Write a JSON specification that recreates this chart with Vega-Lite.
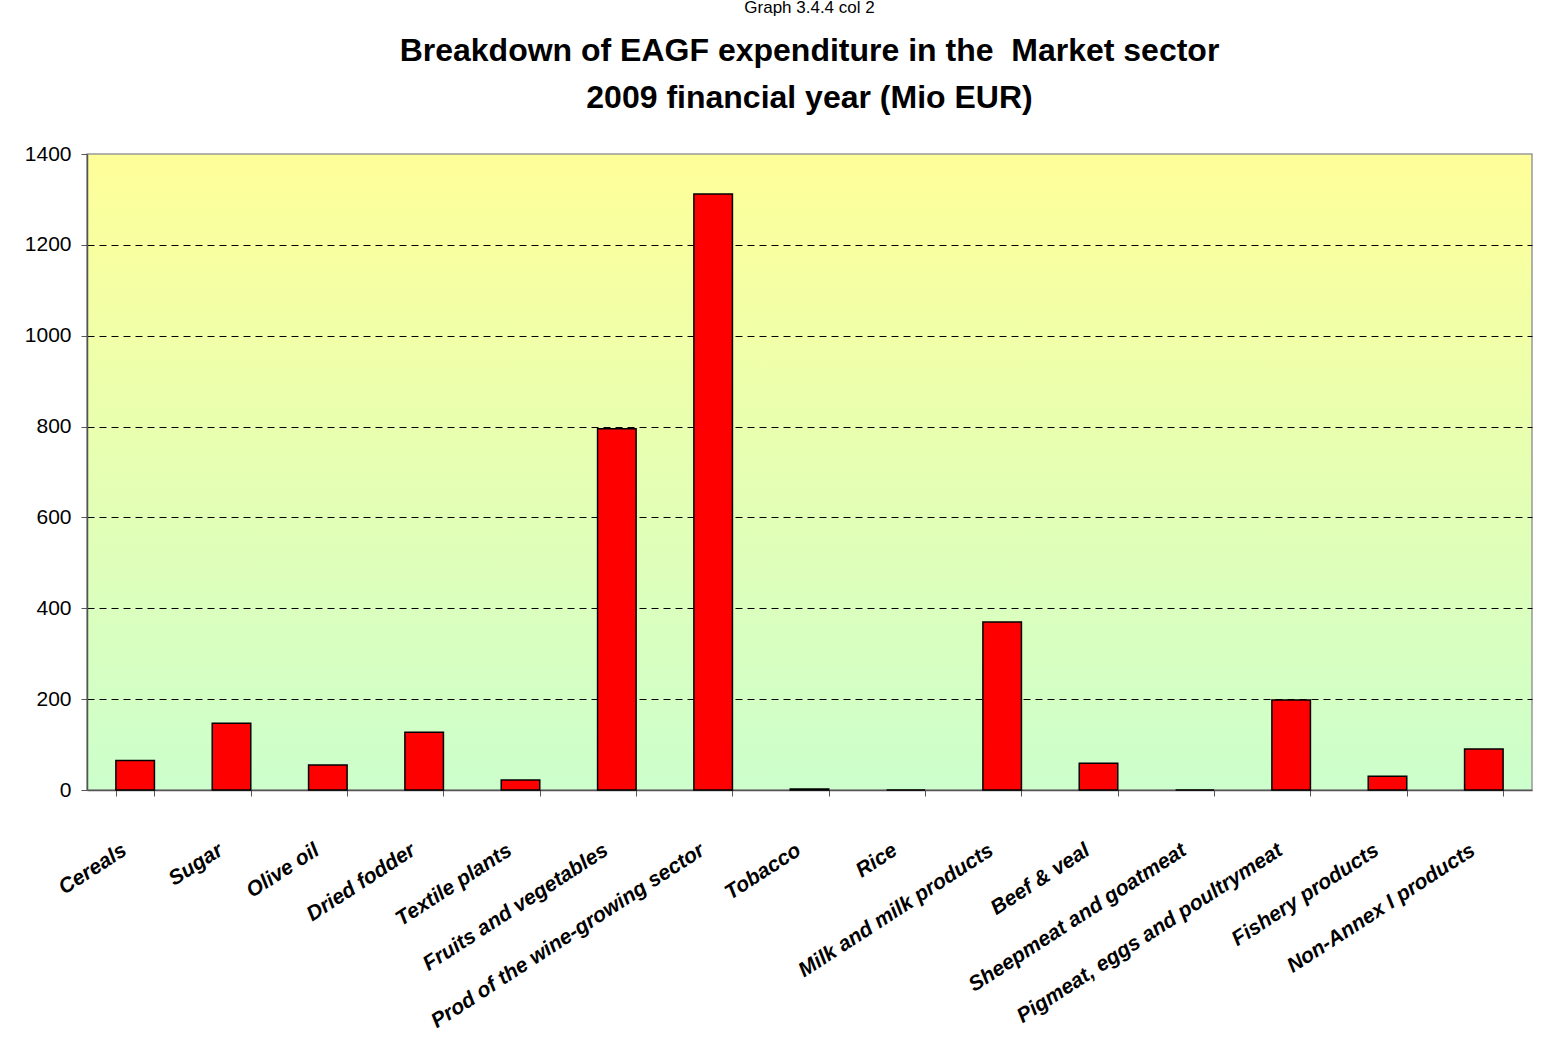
{
  "$schema": "https://vega.github.io/schema/vega-lite/v6.json",
  "autosize": "none",
  "padding": {"left": 87, "top": 154, "right": 14, "bottom": 268},
  "width": 1445,
  "height": 636,
  "background": "white",
  "title": {
    "text": "Graph 3.4.4 col 2",
    "subtitle": ["Breakdown of EAGF expenditure in the\u00a0 Market sector", "2009 financial year (Mio EUR)"],
    "anchor": "middle",
    "font": "Liberation Sans",
    "fontSize": 17,
    "fontWeight": "normal",
    "color": "black",
    "subtitleFont": "Liberation Sans",
    "subtitleFontSize": 32,
    "subtitleFontWeight": "bold",
    "subtitleColor": "black",
    "subtitleLineHeight": 47,
    "subtitlePadding": 19,
    "offset": 28
  },
  "data": {
    "values": [
      {"sector": "Cereals", "value": 65},
      {"sector": "Sugar", "value": 147},
      {"sector": "Olive oil", "value": 55},
      {"sector": "Dried fodder", "value": 127},
      {"sector": "Textile plants", "value": 22},
      {"sector": "Fruits and vegetables", "value": 795},
      {"sector": "Prod of the wine-growing sector", "value": 1312},
      {"sector": "Tobacco", "value": 2},
      {"sector": "Rice", "value": 0},
      {"sector": "Milk and milk products", "value": 370},
      {"sector": "Beef & veal", "value": 59},
      {"sector": "Sheepmeat and goatmeat", "value": 0},
      {"sector": "Pigmeat, eggs and poultrymeat", "value": 198},
      {"sector": "Fishery products", "value": 30},
      {"sector": "Non-Annex I products", "value": 90}
    ]
  },
  "mark": {"type": "bar", "fill": "#FF0000", "stroke": "black", "strokeWidth": 1.5},
  "encoding": {
    "x": {
      "field": "sector",
      "type": "nominal",
      "sort": null,
      "scale": {"paddingInner": 0.6, "paddingOuter": 0.3},
      "axis": {
        "title": null,
        "labelAngle": -33,
        "labelAlign": "right",
        "labelBaseline": "top",
        "labelPadding": 43,
        "labelOffset": -17,
        "labelFont": "Liberation Sans",
        "labelFontSize": 21,
        "labelFontWeight": "bold",
        "labelFontStyle": "italic",
        "labelColor": "black",
        "labelLimit": 500,
        "tickBand": "extent",
        "tickSize": 6,
        "tickColor": "#555555",
        "domainColor": "#555555",
        "domainWidth": 1.5,
        "grid": false
      }
    },
    "y": {
      "field": "value",
      "type": "quantitative",
      "scale": {"domain": [0, 1400], "nice": false},
      "axis": {
        "title": null,
        "format": "d",
        "values": [0, 200, 400, 600, 800, 1000, 1200, 1400],
        "labelFont": "Liberation Sans",
        "labelFontSize": 21,
        "labelColor": "black",
        "labelPadding": 10,
        "tickSize": 6,
        "tickColor": "#555555",
        "domainColor": "#555555",
        "domainWidth": 1.5,
        "grid": true,
        "gridColor": "black",
        "gridDash": [7, 5],
        "gridWidth": 1,
        "gridOpacity": {"condition": {"test": "datum.value == 0 || datum.value == 1400", "value": 0}, "value": 1}
      }
    }
  },
  "config": {
    "view": {
      "stroke": "#999999",
      "strokeWidth": 1.5,
      "fill": {
        "gradient": "linear",
        "x1": 0, "y1": 0, "x2": 0, "y2": 1,
        "stops": [
          {"offset": 0, "color": "#FFFF99"},
          {"offset": 1, "color": "#CCFFCC"}
        ]
      }
    }
  }
}
